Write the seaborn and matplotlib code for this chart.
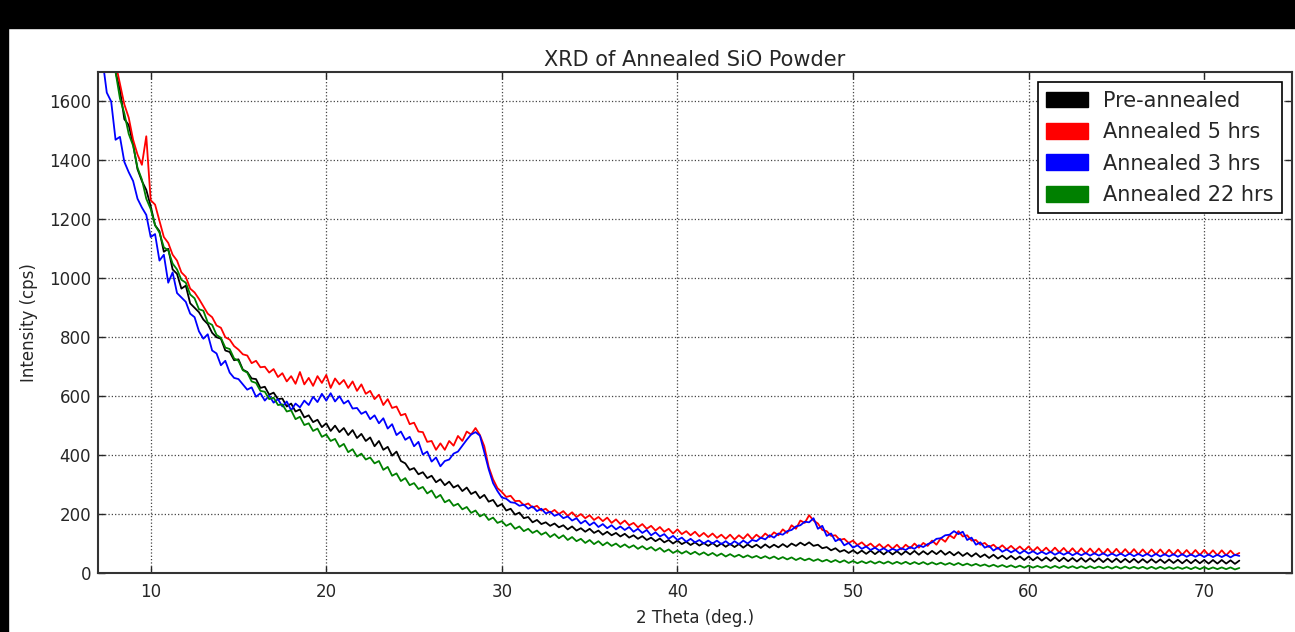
import numpy as np
import pandas as pd
import matplotlib
matplotlib.use("Agg")
import matplotlib.pyplot as plt
from matplotlib.patches import Patch, Rectangle
import seaborn as sns

# -----------------------------------------------------------------
# Data (0.25 deg steps from 7 to 72 deg)
# -----------------------------------------------------------------
two_theta = [
    7.00, 7.25, 7.50, 7.75, 8.00, 8.25, 8.50, 8.75, 9.00, 9.25,
    9.50, 9.75, 10.00, 10.25, 10.50, 10.75, 11.00, 11.25, 11.50, 11.75,
    12.00, 12.25, 12.50, 12.75, 13.00, 13.25, 13.50, 13.75, 14.00, 14.25,
    14.50, 14.75, 15.00, 15.25, 15.50, 15.75, 16.00, 16.25, 16.50, 16.75,
    17.00, 17.25, 17.50, 17.75, 18.00, 18.25, 18.50, 18.75, 19.00, 19.25,
    19.50, 19.75, 20.00, 20.25, 20.50, 20.75, 21.00, 21.25, 21.50, 21.75,
    22.00, 22.25, 22.50, 22.75, 23.00, 23.25, 23.50, 23.75, 24.00, 24.25,
    24.50, 24.75, 25.00, 25.25, 25.50, 25.75, 26.00, 26.25, 26.50, 26.75,
    27.00, 27.25, 27.50, 27.75, 28.00, 28.25, 28.50, 28.75, 29.00, 29.25,
    29.50, 29.75, 30.00, 30.25, 30.50, 30.75, 31.00, 31.25, 31.50, 31.75,
    32.00, 32.25, 32.50, 32.75, 33.00, 33.25, 33.50, 33.75, 34.00, 34.25,
    34.50, 34.75, 35.00, 35.25, 35.50, 35.75, 36.00, 36.25, 36.50, 36.75,
    37.00, 37.25, 37.50, 37.75, 38.00, 38.25, 38.50, 38.75, 39.00, 39.25,
    39.50, 39.75, 40.00, 40.25, 40.50, 40.75, 41.00, 41.25, 41.50, 41.75,
    42.00, 42.25, 42.50, 42.75, 43.00, 43.25, 43.50, 43.75, 44.00, 44.25,
    44.50, 44.75, 45.00, 45.25, 45.50, 45.75, 46.00, 46.25, 46.50, 46.75,
    47.00, 47.25, 47.50, 47.75, 48.00, 48.25, 48.50, 48.75, 49.00, 49.25,
    49.50, 49.75, 50.00, 50.25, 50.50, 50.75, 51.00, 51.25, 51.50, 51.75,
    52.00, 52.25, 52.50, 52.75, 53.00, 53.25, 53.50, 53.75, 54.00, 54.25,
    54.50, 54.75, 55.00, 55.25, 55.50, 55.75, 56.00, 56.25, 56.50, 56.75,
    57.00, 57.25, 57.50, 57.75, 58.00, 58.25, 58.50, 58.75, 59.00, 59.25,
    59.50, 59.75, 60.00, 60.25, 60.50, 60.75, 61.00, 61.25, 61.50, 61.75,
    62.00, 62.25, 62.50, 62.75, 63.00, 63.25, 63.50, 63.75, 64.00, 64.25,
    64.50, 64.75, 65.00, 65.25, 65.50, 65.75, 66.00, 66.25, 66.50, 66.75,
    67.00, 67.25, 67.50, 67.75, 68.00, 68.25, 68.50, 68.75, 69.00, 69.25,
    69.50, 69.75, 70.00, 70.25, 70.50, 70.75, 71.00, 71.25, 71.50, 71.75,
    72.00,
]

pre_annealed = [
    1985, 1890, 1840, 1745, 1700, 1640, 1540, 1520, 1455, 1370,
    1330, 1300, 1245, 1180, 1160, 1090, 1100, 1030, 1015, 965,
    975, 915, 900, 885, 860, 845, 815, 800, 795, 755,
    750, 722, 725, 690, 682, 660, 658, 628, 632, 605,
    612, 590, 592, 565, 575, 548, 555, 528, 535, 512,
    520, 495, 508, 482, 500, 478, 492, 468, 485, 458,
    472, 448, 460, 430, 448, 418, 428, 398, 412, 380,
    372, 350, 356, 335, 342, 322, 330, 308, 318, 298,
    310, 290, 298, 278, 290, 268, 276, 254, 265, 242,
    248, 226, 234, 212, 218, 198, 205, 186, 190, 172,
    180, 166, 172, 160, 168, 155, 162, 148, 158, 144,
    152, 140, 150, 136, 144, 130, 140, 128, 136, 124,
    133, 120, 128, 116, 125, 112, 120, 108, 117, 104,
    112, 100, 110, 98, 106, 95, 104, 93, 102, 92,
    102, 90, 100, 89, 99, 88, 98, 86, 97, 87,
    96, 85, 97, 86, 96, 87, 98, 88, 100, 92,
    103, 94, 104, 92, 96, 84, 88, 77, 84, 72,
    78, 68, 77, 66, 76, 65, 76, 64, 75, 63,
    75, 63, 74, 62, 74, 63, 75, 62, 74, 63,
    75, 64, 76, 62, 72, 60, 71, 58, 68, 56,
    67, 54, 63, 51, 62, 49, 59, 47, 58, 46,
    56, 44, 56, 43, 54, 42, 53, 41, 53, 40,
    52, 40, 51, 39, 51, 38, 50, 38, 50, 37,
    49, 37, 49, 36, 48, 36, 48, 35, 47, 35,
    47, 35, 46, 34, 46, 34, 45, 33, 45, 33,
    45, 33, 44, 32, 44, 32, 44, 32, 43, 31,
    42,
]

annealed_5h = [
    1995, 1930, 1855, 1790, 1730, 1660, 1590, 1545, 1470, 1420,
    1385, 1482, 1265, 1250, 1195, 1140, 1120, 1080, 1060, 1020,
    1005, 965, 952, 930, 905, 880, 868, 840, 832, 800,
    792, 770, 758, 742, 738, 712, 720, 698, 700, 680,
    692, 665, 678, 650, 668, 642, 682, 640, 662, 635,
    668, 645, 672, 628, 660, 640, 655, 628, 650, 618,
    640, 608, 618, 590, 605, 570, 590, 560, 565, 535,
    540, 505, 510, 480, 478, 445, 448, 418, 440, 418,
    448, 432, 465, 448, 480, 470, 492, 468, 430, 360,
    318, 288, 275, 258, 262, 244, 245, 230, 236, 222,
    228, 212, 218, 204, 214, 200, 210, 194, 206, 190,
    200, 186, 196, 180, 190, 176, 188, 170, 182, 166,
    178, 162, 170, 155, 166, 150, 160, 144, 156, 140,
    150, 134, 148, 132, 142, 128, 140, 124, 136, 122,
    134, 119, 130, 116, 130, 114, 128, 116, 132, 115,
    130, 118, 134, 122, 138, 128, 148, 136, 162, 150,
    178, 170, 196, 178, 168, 146, 142, 126, 128, 112,
    116, 102, 110, 95, 104, 90, 100, 86, 98, 84,
    96, 82, 96, 80, 96, 84, 100, 86, 102, 92,
    110, 96, 118, 106, 128, 118, 142, 124, 128, 110,
    112, 96, 102, 88, 96, 82, 94, 80, 92, 78,
    90, 76, 90, 74, 88, 72, 86, 70, 86, 70,
    85, 68, 84, 67, 84, 66, 83, 66, 83, 65,
    82, 65, 82, 64, 81, 64, 81, 63, 80, 63,
    80, 63, 80, 62, 79, 62, 79, 62, 78, 61,
    78, 61, 78, 61, 77, 60, 77, 60, 76, 60,
    68,
]

annealed_3h = [
    1700, 1745, 1630, 1600, 1470, 1480, 1395, 1360, 1330, 1270,
    1240, 1215, 1140, 1150, 1060, 1080, 985, 1020, 950, 935,
    920, 880, 868, 820, 795, 810, 755, 745, 705, 720,
    680, 662, 658, 640, 622, 630, 598, 610, 585, 602,
    578, 590, 565, 582, 552, 575, 562, 585, 570, 598,
    580, 608, 585, 610, 582, 600, 575, 585, 558, 560,
    540, 548, 522, 535, 508, 525, 490, 505, 468, 480,
    452, 462, 430, 445, 402, 412, 378, 392, 362, 380,
    385, 405, 412, 432, 452, 470, 478, 466, 410, 352,
    305, 278, 256, 252, 240, 238, 228, 232, 218, 226,
    210, 218, 202, 208, 194, 200, 186, 192, 178, 186,
    168, 178, 162, 172, 156, 166, 152, 162, 148, 158,
    146, 156, 140, 150, 136, 146, 128, 138, 124, 132,
    116, 126, 112, 120, 106, 116, 104, 112, 100, 110,
    100, 110, 98, 108, 96, 108, 98, 110, 100, 112,
    108, 120, 114, 128, 120, 134, 130, 142, 146, 158,
    162, 174, 172, 186, 150, 160, 126, 134, 108, 116,
    94, 102, 86, 94, 82, 90, 78, 86, 76, 84,
    74, 82, 76, 84, 78, 88, 82, 94, 88, 98,
    104, 116, 118, 128, 130, 142, 132, 140, 112, 120,
    96, 104, 86, 92, 76, 86, 72, 80, 70, 78,
    66, 76, 66, 74, 64, 72, 64, 72, 62, 70,
    62, 70, 60, 68, 60, 68, 59, 67, 59, 67,
    58, 66, 58, 66, 57, 66, 57, 65, 57, 65,
    56, 65, 56, 64, 56, 64, 55, 64, 55, 63,
    55, 63, 54, 63, 54, 62, 54, 62, 53, 62,
    58,
]

annealed_22h = [
    1990, 1900, 1835, 1760, 1700, 1610, 1560, 1490, 1450, 1375,
    1335, 1270, 1235, 1180, 1155, 1105, 1095, 1050, 1030, 995,
    985, 945, 932, 895, 890, 850, 842, 808, 798, 765,
    760, 728, 720, 688, 680, 650, 645, 618, 615, 590,
    595, 570, 572, 548, 552, 522, 530, 502, 508, 482,
    490, 462, 470, 448, 455, 428, 438, 410, 420, 395,
    405, 385, 392, 372, 380, 350, 360, 330, 338, 312,
    322, 298, 305, 285, 292, 270, 280, 255, 265, 240,
    248, 228, 235, 216, 224, 204, 212, 192, 200, 180,
    188, 170, 176, 160, 168, 150, 158, 142, 150, 136,
    144, 130, 138, 122, 132, 118, 128, 112, 122, 108,
    116, 102, 112, 98, 108, 94, 104, 92, 100, 88,
    97, 86, 94, 82, 91, 80, 88, 76, 85, 72,
    80, 68, 76, 66, 74, 64, 72, 62, 70, 60,
    68, 58, 66, 56, 64, 55, 62, 53, 60, 52,
    58, 50, 57, 49, 56, 47, 54, 46, 53, 44,
    51, 43, 49, 41, 47, 39, 45, 37, 44, 36,
    43, 34, 41, 33, 40, 33, 40, 32, 39, 32,
    39, 31, 38, 31, 38, 30, 37, 30, 37, 29,
    36, 29, 35, 28, 34, 27, 34, 26, 32, 25,
    31, 24, 29, 22, 28, 21, 27, 20, 26, 19,
    25, 18, 25, 18, 24, 18, 24, 17, 24, 17,
    24, 17, 23, 16, 23, 16, 23, 16, 22, 16,
    22, 15, 22, 15, 22, 15, 21, 15, 21, 14,
    21, 14, 21, 14, 20, 14, 20, 14, 20, 13,
    20, 13, 20, 13, 19, 13, 19, 13, 19, 12,
    17,
]

labels = ["Pre-annealed", "Annealed 5 hrs", "Annealed 3 hrs", "Annealed 22 hrs"]
colors = ["black", "red", "blue", "green"]
series = [pre_annealed, annealed_5h, annealed_3h, annealed_22h]

df = pd.concat(
    [pd.DataFrame({"two_theta": two_theta, "intensity": vals, "sample": lab})
     for lab, vals in zip(labels, series)],
    ignore_index=True,
)

# -----------------------------------------------------------------
# Plot
# -----------------------------------------------------------------
sns.set_style("ticks", {
    "axes.edgecolor": "#333333",
    "grid.color": "#444444",
    "grid.linestyle": ":",
    "xtick.direction": "in",
    "ytick.direction": "in",
})
plt.rcParams["font.family"] = ["DejaVu Sans"]

fig = plt.figure(figsize=(12.95, 6.32), dpi=100)
ax = fig.add_axes([98 / 1295, 59 / 632, 1194 / 1295, 501 / 632])

# screenshot frame: black strip along the top and left edge
fig.add_artist(Rectangle((0, 1 - 28 / 632), 1, 28 / 632, transform=fig.transFigure,
                         color="black", zorder=-10))
fig.add_artist(Rectangle((0, 0), 8 / 1295, 1, transform=fig.transFigure,
                         color="black", zorder=-10))

sns.lineplot(data=df, x="two_theta", y="intensity", hue="sample",
             hue_order=labels, palette=dict(zip(labels, colors)),
             estimator=None, sort=False, linewidth=1.3, legend=False, ax=ax)

ax.set_xlim(7, 75)
ax.set_ylim(0, 1700)
ax.set_xticks([10, 20, 30, 40, 50, 60, 70])
ax.set_yticks([0, 200, 400, 600, 800, 1000, 1200, 1400, 1600])
ax.grid(True, linestyle=":", linewidth=0.9, color="#444444")
ax.tick_params(axis="both", which="both", top=True, right=True, direction="in",
               length=5, width=1, labelsize=12)
ax.tick_params(axis="x", pad=7)
ax.tick_params(axis="y", pad=5)
for sp in ax.spines.values():
    sp.set_linewidth(1.5)
    sp.set_color("#333333")

ax.set_title("XRD of Annealed SiO Powder", fontsize=15, pad=4)
ax.set_xlabel("2 Theta (deg.)", fontsize=12, labelpad=6)
ax.set_ylabel("Intensity (cps)", fontsize=12, labelpad=8)

handles = [Patch(facecolor=c, edgecolor=c, label=lab) for lab, c in zip(labels, colors)]
leg = ax.legend(handles=handles, loc="upper right", fontsize=15, frameon=True,
                fancybox=False, shadow=False, handlelength=2.0, handleheight=0.8,
                handletextpad=0.7, labelspacing=0.55, borderpad=0.4,
                borderaxespad=0.5)
leg.get_frame().set_edgecolor("black")
leg.get_frame().set_linewidth(1.2)
leg.get_frame().set_alpha(1)

fig.savefig("out.png", dpi=100, facecolor="white")
